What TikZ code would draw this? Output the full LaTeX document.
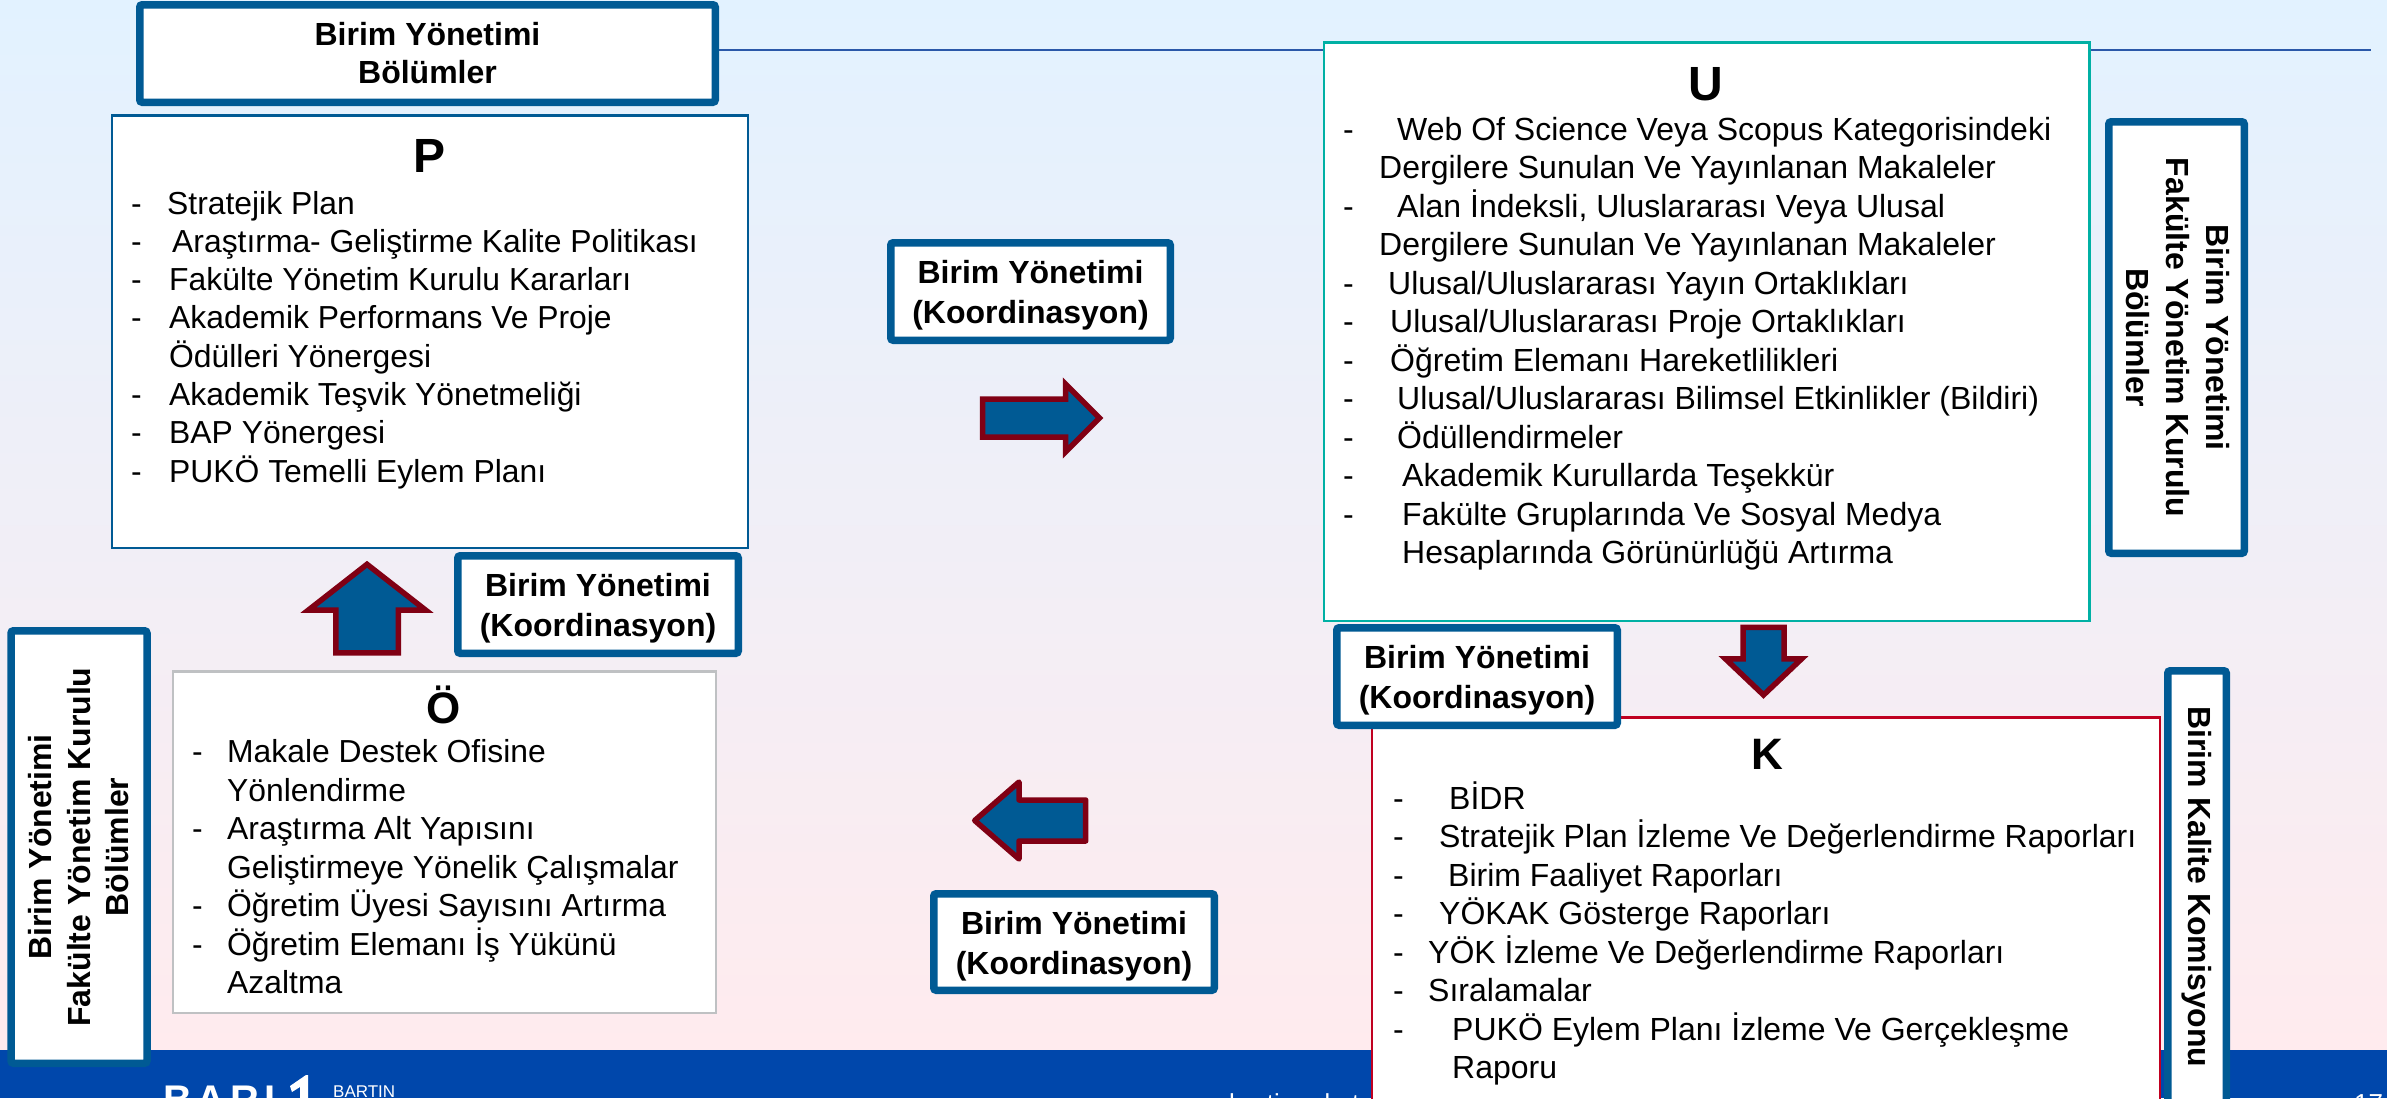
\documentclass[tikz,border=0pt]{standalone}
\usepackage{fontspec}
\setmainfont{Liberation Sans}
\newfontfamily\logofont[LetterSpace=12]{Liberation Sans}
\usetikzlibrary{shapes.arrows}
\definecolor{bgtop}{HTML}{E2F2FF}
\definecolor{bgbot}{HTML}{FFEBEE}
\definecolor{band}{HTML}{0047AB}
\definecolor{frameblue}{HTML}{005A94}
\definecolor{arrowred}{HTML}{800014}
\definecolor{ruleblue}{HTML}{2A58A8}
\definecolor{ubox}{HTML}{00B0A4}
\definecolor{kbox}{HTML}{C00020}
\definecolor{obox}{HTML}{BFC1C3}
\tikzset{
  x=1pt,y=-1pt,
  framebox/.style={draw=frameblue,fill=white,line width=7.5pt,rounded corners=2.5pt,align=center,inner sep=0pt,
    font=\bfseries\fontsize{32}{38}\selectfont},
  koordbox/.style={framebox,font=\bfseries\fontsize{32}{40}\selectfont},
  panel/.style={fill=white,line width=2.5pt,inner sep=0pt},
  paneltitle/.style={anchor=base,inner sep=0pt,font=\bfseries\fontsize{#1}{#1}\selectfont},
  listtxt/.style={anchor=base west,inner sep=0pt,font=\fontsize{31.85}{38.5}\selectfont},
  widelist/.style={listtxt/.append style={font=\fontsize{32}{38.5}\selectfont}},
  blockarrow/.style={single arrow,draw=arrowred,fill=frameblue,line width=5.5pt,inner sep=0pt,miter limit=10},
  foot/.style={anchor=base west,inner sep=0pt,text=white}
}
\newcommand{\li}[5]{\node[listtxt] (#1d) at (#2,#4) {-}; \node[listtxt] (#1t) at (#3,#4) {#5};}
\newcommand{\lc}[4]{\node[listtxt] (#1t) at (#2,#3) {#4};}
\newcommand{\koordtext}{\rule{0pt}{31pt}Birim Yönetimi\\(Koordinasyon)}
\begin{document}
\begin{tikzpicture}
\useasboundingbox (0,0) rectangle (2387,1098);
\clip (0,0) rectangle (2387,1098);
% background
\fill[top color=bgtop,bottom color=bgbot] (0,0) rectangle (2387,1050);
\fill[band] (0,1050) rectangle (2387,1098);
% footer
\node[foot,font=\logofont\bfseries\fontsize{40}{40}\selectfont] (logo) at (163,1113) {BARI};
\fill[white] (290,1086) -- (306,1075) -- (308,1075) -- (308,1098) -- (300,1098) -- (300,1087) -- (292,1092) -- cycle;
\node[foot,font=\fontsize{17}{17}\selectfont] (logotext) at (333,1097) {BARTIN};
\node[foot,font=\fontsize{26}{26}\selectfont] (web) at (1229,1112) {bartin.edu.tr};
\node[foot,font=\fontsize{26}{26}\selectfont] (pageno) at (2354,1112) {17};
% top box and rule
\node[framebox,minimum width=575.5pt,minimum height=97.5pt] (topbox) at (427.5,53.5) {Birim Yönetimi\\\rule[-1pt]{0pt}{0pt}Bölümler};
\coordinate (ruleend) at (2371,49.5);
\draw[ruleblue,line width=2pt] (topbox.east |- ruleend) -- (ruleend);
% P panel
\node[panel,draw=frameblue,minimum width=636pt,minimum height=432.5pt] (ppanel) at (429.75,331.5) {};
\node[paneltitle=48] (ptitle) at (430,172) {P};
\li{p1}{131}{167}{214}{Stratejik Plan}
\li{p2}{131}{172}{252}{Araştırma- Geliştirme Kalite Politikası}
\li{p3}{131}{169}{290.5}{Fakülte Yönetim Kurulu Kararları}
\li{p4}{131}{169}{328.5}{Akademik Performans Ve Proje}
\lc{p5}{169}{367}{Ödülleri Yönergesi}
\li{p6}{131}{169}{405}{Akademik Teşvik Yönetmeliği}
\li{p7}{131}{169}{443.5}{BAP Yönergesi}
\li{p8}{131}{169}{482}{PUKÖ Temelli Eylem Planı}
% O panel
\node[panel,draw=obox,minimum width=543pt,minimum height=341.5pt] (opanel) at (444.25,842) {};
\node[paneltitle=44] (otitle) at (444,723) {Ö};
\li{o1}{192}{227}{762.5}{Makale Destek Ofisine}
\lc{o2}{227}{801}{Yönlendirme}
\li{o3}{192}{227}{839.5}{Araştırma Alt Yapısını}
\lc{o4}{227}{878}{Geliştirmeye Yönelik Çalışmalar}
\li{o5}{192}{227}{916.5}{Öğretim Üyesi Sayısını Artırma}
\li{o6}{192}{227}{955}{Öğretim Elemanı İş Yükünü}
\lc{o7}{227}{993.5}{Azaltma}
% U panel
\node[panel,draw=ubox,minimum width=765.5pt,minimum height=578.5pt] (upanel) at (1706.5,331.5) {};
\node[paneltitle=48] (utitle) at (1706,100) {U};
\begin{scope}[widelist]
\li{u1}{1343}{1397}{140}{Web Of Science Veya Scopus Kategorisindeki}
\lc{u2}{1379}{178.5}{Dergilere Sunulan Ve Yayınlanan Makaleler}
\li{u3}{1343}{1397}{217}{Alan İndeksli, Uluslararası Veya Ulusal}
\lc{u4}{1379}{255.5}{Dergilere Sunulan Ve Yayınlanan Makaleler}
\li{u5}{1343}{1388}{294}{Ulusal/Uluslararası Yayın Ortaklıkları}
\li{u6}{1343}{1390}{332.5}{Ulusal/Uluslararası Proje Ortaklıkları}
\li{u7}{1343}{1390}{371}{Öğretim Elemanı Hareketlilikleri}
\li{u8}{1343}{1397}{409.5}{Ulusal/Uluslararası Bilimsel Etkinlikler (Bildiri)}
\li{u9}{1343}{1397}{448}{Ödüllendirmeler}
\li{u10}{1343}{1402}{486.5}{Akademik Kurullarda Teşekkür}
\li{u11}{1343}{1402}{525}{Fakülte Gruplarında Ve Sosyal Medya}
\lc{u12}{1402}{563.5}{Hesaplarında Görünürlüğü Artırma}
\end{scope}
% K panel
\node[panel,draw=kbox,minimum width=788pt,minimum height=423pt] (kpanel) at (1766,929) {};
\node[paneltitle=44] (ktitle) at (1767,769) {K};
\begin{scope}[widelist]
\li{k1}{1393}{1449}{809}{BİDR}
\li{k2}{1393}{1439}{847.5}{Stratejik Plan İzleme Ve Değerlendirme Raporları}
\li{k3}{1393}{1448}{886}{Birim Faaliyet Raporları}
\li{k4}{1393}{1439}{924.5}{YÖKAK Gösterge Raporları}
\li{k5}{1393}{1428}{963}{YÖK İzleme Ve Değerlendirme Raporları}
\li{k6}{1393}{1428}{1001.5}{Sıralamalar}
\li{k7}{1393}{1452}{1040}{PUKÖ Eylem Planı İzleme Ve Gerçekleşme}
\lc{k8}{1452}{1078.5}{Raporu}
\end{scope}
% frame boxes
\node[koordbox,minimum width=279.5pt,minimum height=97.5pt] (koordtop) at (1030.5,291.5) {\koordtext};
\node[koordbox,minimum width=280.5pt,minimum height=97.5pt] (koordleft) at (598,604.5) {\koordtext};
\node[koordbox,minimum width=280.5pt,minimum height=97.5pt] (koordk) at (1477,676.5) {\koordtext};
\node[koordbox,minimum width=280.5pt,minimum height=96.5pt] (koordbot) at (1074,942) {\koordtext};
\node[koordbox,rotate=-90,minimum width=431.5pt,minimum height=135.5pt] (sideright) at (2176.5,337.5) {Birim Yönetimi\\Fakülte Yönetim Kurulu\\\rule[-3pt]{0pt}{0pt}Bölümler};
\node[framebox,rotate=90,minimum width=432.5pt,minimum height=136pt,font=\bfseries\fontsize{32}{38.5}\selectfont] (sideleft) at (79,847) {Birim Yönetimi\\Fakülte Yönetim Kurulu\\Bölümler};
\node[framebox,rotate=-90,minimum width=432.5pt,minimum height=58.5pt] (sidek) at (2197,887) {Birim Kalite Komisyonu};
% block arrows
\node[blockarrow,inner ysep=16.25pt,minimum height=117pt,single arrow head extend=15pt] (arrowright) at (1031.5,418) {};
\node[blockarrow,rotate=180,line join=round,inner ysep=17.75pt,single arrow tip angle=82,minimum height=111pt,single arrow head extend=18pt] (arrowleft) at (1042,820.5) {};
\node[blockarrow,rotate=90,inner ysep=28.5pt,single arrow tip angle=104,minimum height=88.5pt,single arrow head extend=27.5pt] (arrowup) at (367,620.75) {};
\node[blockarrow,rotate=-90,inner ysep=17.75pt,single arrow tip angle=93,minimum height=67.5pt,single arrow head extend=17.5pt] (arrowdown) at (1763.5,651.5) {};
\end{tikzpicture}
\end{document}
